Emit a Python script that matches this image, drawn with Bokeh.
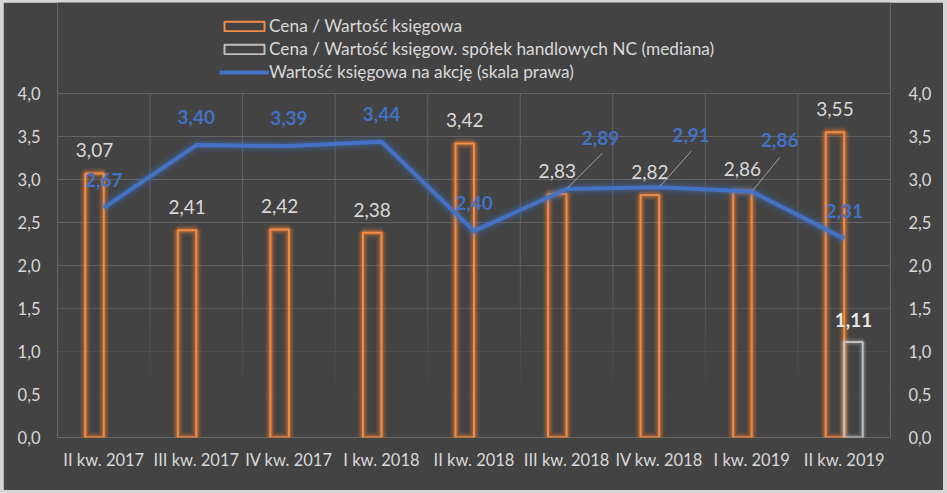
import math
from bokeh.plotting import figure
from bokeh.models import Range1d, LinearAxis, FixedTicker, ColumnDataSource, Legend, LegendItem
from bokeh.layouts import column
from bokeh.core.properties import value
from bokeh.embed import file_html
from bokeh.resources import INLINE

# ---------------- data ----------------
categories = ["II kw. 2017", "III kw. 2017", "IV kw. 2017", "I kw. 2018", "II kw. 2018",
              "III kw. 2018", "IV kw. 2018", "I kw. 2019", "II kw. 2019"]
pbv = [3.07, 2.41, 2.42, 2.38, 3.42, 2.83, 2.82, 2.86, 3.55]
pbv_median = [float("nan")] * 8 + [1.11]
bvps = [2.67, 3.40, 3.39, 3.44, 2.40, 2.89, 2.91, 2.86, 2.31]
y_ticks = [0.0, 0.5, 1.0, 1.5, 2.0, 2.5, 3.0, 3.5, 4.0]
y_tick_labels = ["0,0", "0,5", "1,0", "1,5", "2,0", "2,5", "3,0", "3,5", "4,0"]
legend_labels = ["Cena / Wartość księgowa",
                 "Cena / Wartość księgow. spółek handlowych NC (mediana)",
                 "Wartość księgowa na akcję (skala prawa)"]

# ---------------- style / layout ----------------
BG = "#434343"
TXT = "#d9d9d9"
ORANGE = "#ED7D31"
BLUE = "#4472C4"
GRAYBAR = "#BFBFBF"
FONT = value("Lato")

W, H = 940, 488
BL, BR, BB = 54, 53, 53
frame_w = W - BL - BR
frame_h = H - BB
PX_Y = 86.0
PX_X = frame_w / len(categories)
y_top = frame_h / PX_Y

def fmt(v):
    return f"{v:.2f}".replace(".", ",")

xc = [i + 0.5 for i in range(len(categories))]
x_or = [x - 0.1 for x in xc]
x_gr = [x + 0.1 for x in xc]

p = figure(width=W, height=H, x_range=Range1d(0, len(categories)), y_range=Range1d(0, y_top),
           output_backend="svg", toolbar_location=None,
           min_border_left=BL, min_border_right=BR, min_border_top=0, min_border_bottom=BB,
           background_fill_color=BG, border_fill_color=BG, outline_line_color=None)
p.extra_y_ranges = {"right": Range1d(0, y_top)}
p.xgrid.visible = False
p.ygrid.visible = False

# ---------------- axes ----------------
def style_axis(ax):
    ax.axis_line_color = None
    ax.major_tick_line_color = None
    ax.minor_tick_line_color = None
    ax.major_tick_out = 0
    ax.major_tick_in = 0
    ax.minor_tick_out = 0
    ax.major_label_text_color = TXT
    ax.major_label_text_font = "Lato"
    ax.major_label_text_font_size = "16.5px"

p.yaxis.ticker = FixedTicker(ticks=y_ticks)
p.yaxis.major_label_overrides = dict(zip(y_ticks, y_tick_labels))
style_axis(p.yaxis[0])
p.yaxis.major_label_standoff = 17

ry = LinearAxis(y_range_name="right", ticker=FixedTicker(ticks=y_ticks),
                major_label_overrides=dict(zip(y_ticks, y_tick_labels)))
style_axis(ry)
ry.major_label_standoff = 18
p.add_layout(ry, "right")

p.xaxis.ticker = FixedTicker(ticks=xc)
p.xaxis.major_label_overrides = dict(zip(xc, categories))
style_axis(p.xaxis[0])
p.xaxis.major_label_standoff = 12

# ---------------- fading gridlines ----------------
def grid_alpha(y):
    return max(0.0, min(1.0, (y - 0.3) / 1.9))

GRID = "#636363"
hx0, hx1, hy, ha = [], [], [], []
for t in y_ticks:
    hx0.append(0); hx1.append(len(categories)); hy.append(t); ha.append(grid_alpha(t))
p.segment(x0=hx0, y0=hy, x1=hx1, y1=hy, line_color=GRID, line_width=1, line_alpha=ha)
vx, vy0, vy1, va = [], [], [], []
step = 0.125
for i in range(len(categories) + 1):
    y = 0.0
    while y < 4.0 - 1e-9:
        vx.append(i); vy0.append(y); vy1.append(y + step); va.append(grid_alpha(y + step / 2))
        y += step
p.segment(x0=vx, y0=vy0, x1=vx, y1=vy1, line_color=GRID, line_width=1, line_alpha=va)

# ---------------- bars ----------------
src_o = ColumnDataSource(dict(x=x_or, top=pbv))
for lw, la in [(11, 0.1), (8, 0.16), (5, 0.3)]:
    p.vbar(x="x", top="top", width=0.2, bottom=0, source=src_o, fill_alpha=0,
           line_color=ORANGE, line_width=lw, line_alpha=la)
bar_o = p.vbar(x="x", top="top", width=0.2, bottom=0, source=src_o, fill_alpha=0,
               line_color="#F28C45", line_width=2)

src_g = ColumnDataSource(dict(x=x_gr, top=pbv_median))
for lw, la in [(8, 0.08), (5, 0.12)]:
    p.vbar(x="x", top="top", width=0.2, bottom=0, source=src_g, fill_alpha=0,
           line_color="#ffffff", line_width=lw, line_alpha=la)
bar_g = p.vbar(x="x", top="top", width=0.2, bottom=0, source=src_g, fill_alpha=0,
               line_color=GRAYBAR, line_width=2)

# ---------------- line (right axis) ----------------
for lw, la in [(16, 0.08), (11, 0.12), (7, 0.2)]:
    p.line(xc, bvps, y_range_name="right", line_color=BLUE, line_width=lw, line_alpha=la,
           line_join="round")
ln = p.line(xc, bvps, y_range_name="right", line_color=BLUE, line_width=4, line_join="round")

# ---------------- labels (positions derived from values + pixel shifts) ----------------
p.text(x=x_or, y=[v + 23 / PX_Y for v in pbv], text=[fmt(v) for v in pbv],
       text_align="center", text_baseline="middle", text_color=TXT,
       text_font=FONT, text_font_size="19px")

med_idx = [i for i, v in enumerate(pbv_median) if not math.isnan(v)]
p.text(x=[x_gr[i] for i in med_idx], y=[pbv_median[i] + 22 / PX_Y for i in med_idx],
       text=[fmt(pbv_median[i]) for i in med_idx],
       text_align="center", text_baseline="middle", text_color="#e6e6e6",
       text_font=FONT, text_font_size="19px", text_font_style="bold")

# label shifts (px right, px up) for the line labels; leader lines where moved
blue_shift = [(0, 28), (0, 28), (0, 28), (0, 28), (0, 28), (34, 51), (32, 52), (28, 52), (0, 28)]
leader_end = {5: (36, 36), 6: (32, 36), 7: (28, 34)}
p.text(x=[x + s[0] / PX_X for x, s in zip(xc, blue_shift)],
       y=[v + s[1] / PX_Y for v, s in zip(bvps, blue_shift)],
       text=[fmt(v) for v in bvps],
       y_range_name="right", text_align="center", text_baseline="middle",
       text_color=BLUE, text_font=FONT, text_font_size="19px", text_font_style="bold")

lx0, ly0, lx1, ly1 = [], [], [], []
for i, (dx, dy) in leader_end.items():
    lx0.append(xc[i] + 1 / PX_X); ly0.append(bvps[i] + 1 / PX_Y)
    lx1.append(xc[i] + dx / PX_X); ly1.append(bvps[i] + dy / PX_Y)
p.segment(x0=lx0, y0=ly0, x1=lx1, y1=ly1, y_range_name="right",
          line_color="#a6a6a6", line_width=1)

# ---------------- legend ----------------
legend = Legend(items=[LegendItem(label=legend_labels[0], renderers=[bar_o]),
                       LegendItem(label=legend_labels[1], renderers=[bar_g]),
                       LegendItem(label=legend_labels[2], renderers=[ln])],
                location=(162, 354), orientation="vertical",
                glyph_width=50, glyph_height=12, label_height=23, label_standoff=0,
                spacing=0, padding=0, margin=0,
                label_text_color=TXT, label_text_font="Lato", label_text_font_size="17.3px",
                background_fill_alpha=0, border_line_alpha=0)
p.add_layout(legend, "center")

layout = column(p, styles={"padding": "2px 4px 3px 3px", "background-color": "#d6d6d6"})

open("out.html", "w").write(file_html(layout, INLINE))
